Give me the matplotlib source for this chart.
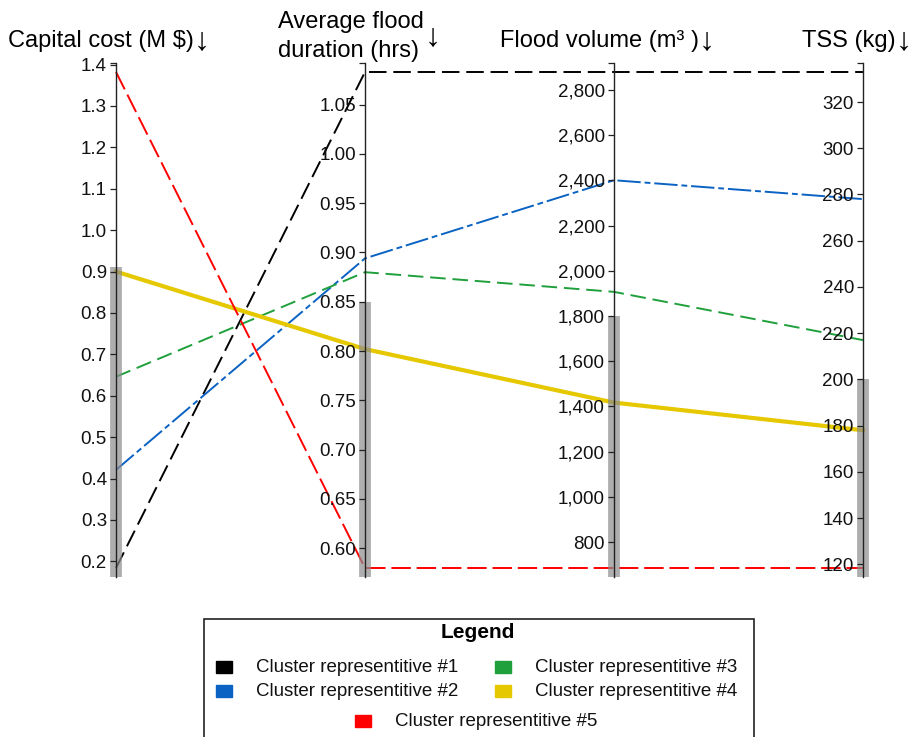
import numpy as np
import matplotlib
matplotlib.use("Agg")
import matplotlib.pyplot as plt
from matplotlib.patches import Rectangle
from matplotlib.ticker import FuncFormatter

plt.rcParams['font.family'] = ['Liberation Sans', 'DejaVu Sans']

# data
axis_titles = ["Capital cost (M $)", "Average flood", "duration (hrs)", "Flood volume (m³ )", "TSS (kg)"]
cluster_names = ["Cluster representitive #1", "Cluster representitive #2", "Cluster representitive #3",
                 "Cluster representitive #4", "Cluster representitive #5"]
capital_cost = [0.184, 0.421, 0.646, 0.900, 1.382]
flood_duration = [1.083, 0.894, 0.880, 0.802, 0.580]
flood_volume = [2880, 2401, 1907, 1417, 685]
tss = [333, 278, 217, 178, 118.4]
constraints = [0.912, 0.85, 1800, 200]
ticks = [np.arange(0.2, 1.41, 0.1), np.arange(0.60, 1.051, 0.05),
         np.arange(800, 2801, 200), np.arange(120, 321, 20)]
tick_fmt = ["{:.1f}", "{:.2f}", "{:,.0f}", "{:.0f}"]

colors = ["#000000", "#0a62c2", "#1fa03c", "#e6c800", "#ff0000"]
styles = [dict(lw=1.4, dashes=(9, 3.5)), dict(lw=1.4, dashes=(12, 2, 3, 2)),
          dict(lw=1.4, dashes=(8, 3.5)), dict(lw=3.0), dict(lw=1.4, dashes=(10, 3))]

W, H = 912, 737
fig = plt.figure(figsize=(W / 100, H / 100), dpi=100)

def fx(px):
    return px / W

def fy(py):
    return 1 - py / H

rect = [fx(116), fy(577), fx(863) - fx(116), fy(63) - fy(577)]
pad = 9 / 496

cols = [capital_cost, flood_duration, flood_volume, tss]
data = np.array(cols).T
mins = data.min(axis=0)
maxs = data.max(axis=0)
norm = (data - mins) / (maxs - mins)

ax = fig.add_axes(rect)
ax.set_xlim(0, 3)
ax.set_ylim(-pad, 1 + pad)
ax.axis('off')
x = np.arange(4)
for i in range(len(cluster_names)):
    st = styles[i]
    if 'dashes' in st:
        ax.plot(x, norm[i], color=colors[i], lw=st['lw'], dashes=st['dashes'], zorder=4, clip_on=False)
    else:
        ax.plot(x, norm[i], color=colors[i], lw=st['lw'], ls='-', zorder=4, clip_on=False)

# grey constraint bars
for j in range(4):
    top = (constraints[j] - mins[j]) / (maxs[j] - mins[j])
    ax.plot([j, j], [-pad, top], color='#8c8c8c', lw=8.5, alpha=0.7,
            solid_capstyle='butt', zorder=5, clip_on=False)

# one axis per objective
for j in range(4):
    a = fig.add_axes(rect)
    a.patch.set_visible(False)
    for s in ['top', 'right', 'bottom']:
        a.spines[s].set_visible(False)
    a.spines['left'].set_position(('axes', j / 3))
    a.spines['left'].set_color('#222222')
    a.spines['left'].set_linewidth(1.0)
    rng = maxs[j] - mins[j]
    lo, hi = mins[j] - pad * rng, maxs[j] + pad * rng
    a.set_ylim(lo, hi)
    a.set_xticks([])
    a.set_yticks(ticks[j])
    a.yaxis.set_major_formatter(FuncFormatter(lambda v, p, f=tick_fmt[j]: f.format(v)))
    a.set_yticks([hi], minor=True)
    a.tick_params(axis='y', which='both', length=4, width=0.9, color='#222222',
                  labelsize=13.5, pad=2.5, labelcolor='#111111')
    a.tick_params(axis='y', which='minor', labelleft=False)

# axis titles, each followed by a tall down arrow
renderer = fig.canvas.get_renderer()

def title_with_arrow(px, py, label, arrow_dx=1, arrow_dy=0):
    t = fig.text(fx(px), fy(py), label, fontsize=17, ha='left', va='baseline')
    bb = t.get_window_extent(renderer)
    fig.text((bb.x1 + arrow_dx) / W, fy(py + arrow_dy), "↓", fontsize=23,
             ha='left', va='baseline')

title_with_arrow(8, 47, axis_titles[0], 0, 2)
title_with_arrow(278, 28, axis_titles[1], 1, 17)
fig.text(fx(278), fy(57), axis_titles[2], fontsize=17, ha='left', va='baseline')
title_with_arrow(500, 47, axis_titles[3], 0, 2)
title_with_arrow(802, 47, axis_titles[4], 0, 2)

# legend box drawn by hand (last entry centred)
fig.patches.append(Rectangle((fx(204), fy(745)), fx(754) - fx(204), fy(619) - fy(745),
                             transform=fig.transFigure, fill=False, ec='#222222', lw=1.2))
fig.text(fx(478), fy(633), "Legend", fontsize=15, fontweight='bold', ha='center', va='center')
leg_pos = [(224, 667), (224, 691), (503, 667), (503, 691), (363, 721)]
for (mx, my), name, c in zip(leg_pos, cluster_names, colors):
    fig.patches.append(Rectangle((fx(mx - 8), fy(my + 6)), fx(16), 12 / H,
                                 transform=fig.transFigure, color=c))
    fig.text(fx(mx + 32), fy(my), name, fontsize=13.5, ha='left', va='center', color='#111111')

fig.savefig("out.png", dpi=100)
